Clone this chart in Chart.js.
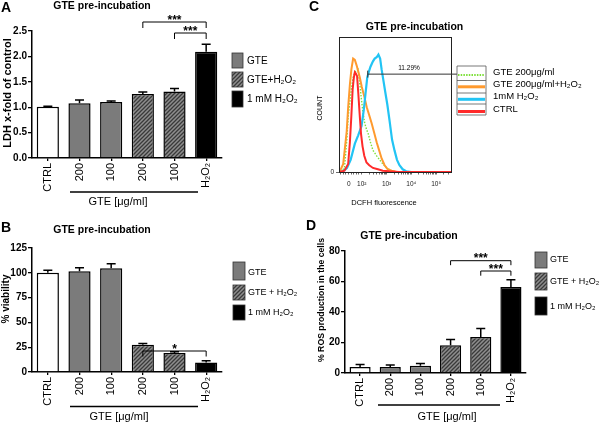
<!DOCTYPE html>
<html>
<head>
<meta charset="utf-8">
<script src="https://cdn.jsdelivr.net/npm/chart.js@4/dist/chart.umd.min.js"></script>
<style>
body { margin: 0; background: #fff; width: 600px; height: 425px; position: relative; overflow: hidden; }
.panel { position: absolute; }
</style>
</head>
<body>
<div class="panel" style="left:0;top:0;width:300px;height:210px"><canvas id="chA"></canvas></div>
<div class="panel" style="left:300px;top:0;width:300px;height:210px"><canvas id="chC"></canvas></div>
<div class="panel" style="left:0;top:210px;width:300px;height:215px"><canvas id="chB"></canvas></div>
<div class="panel" style="left:300px;top:210px;width:300px;height:215px"><canvas id="chD"></canvas></div>
<script>
/* data */
var barLabels = ['CTRL', '200', '100', '200', '100', 'H₂O₂'];

var ldhValues = [1.01, 1.08, 1.10, 1.26, 1.31, 2.09];
var ldhErrors = [0.01, 0.06, 0.02, 0.04, 0.06, 0.15];

var viabilityValues = [100, 101.5, 104.5, 27.5, 19.2, 9.6];
var viabilityErrors = [2.5, 3.7, 4.7, 1.3, 1.3, 1.7];

var rosValues = [3.9, 3.9, 4.8, 18.2, 23.6, 56.4];
var rosErrors = [1.6, 1.3, 1.4, 3.7, 5.5, 4.8];

// panel C histograms: x in decades (10^2 -> 2), y in % of max count
var ctrlX = [1.10, 1.30, 1.45, 1.52, 1.58, 1.63, 1.68, 1.72, 1.76, 1.81, 1.86, 1.92, 1.97, 2.03, 2.10, 2.19, 2.30, 2.45, 2.65, 2.85, 3.10, 3.50, 4.00, 5.00, 5.64];
var ctrlY = [0, 1, 6, 22, 42, 61, 70, 74, 73, 71, 58, 41, 28, 19, 12, 7, 5, 3, 2, 1, 0.5, 0, 0, 0, 0];

var gteX = [1.15, 1.30, 1.40, 1.45, 1.52, 1.59, 1.65, 1.72, 1.78, 1.85, 1.92, 1.99, 2.05, 2.12, 2.20, 2.25, 2.35, 2.45, 2.60, 2.72, 2.85, 3.00, 3.20, 3.40, 4.00, 5.64];
var gteY = [0, 3, 25, 41, 52, 63, 70, 74, 75, 76, 65, 53, 44, 36, 31, 29, 22, 16, 12, 9, 6, 3, 1, 0, 0, 0];

var gteH2o2X = [1.10, 1.25, 1.39, 1.45, 1.52, 1.58, 1.65, 1.72, 1.79, 1.85, 1.92, 2.00, 2.10, 2.20, 2.30, 2.40, 2.50, 2.60, 2.70, 2.80, 2.92, 3.05, 3.20, 3.40, 4.00, 5.64];
var gteH2o2Y = [0, 6, 30, 48, 65, 76, 84, 83, 79, 75, 70, 63, 56, 48, 42, 36, 29, 22, 16, 10, 5, 2, 1, 0, 0, 0];

var h2o2X = [1.15, 1.24, 1.40, 1.55, 1.72, 1.85, 1.99, 2.08, 2.15, 2.22, 2.28, 2.35, 2.45, 2.52, 2.60, 2.67, 2.74, 2.80, 2.87, 2.94, 3.03, 3.12, 3.22, 3.32, 3.42, 3.52, 3.65, 3.79, 4.00, 5.64];
var h2o2Y = [0, 0.5, 3, 9, 21, 27, 34, 46, 58, 70, 74, 78, 82, 84, 85, 87, 84, 76, 68, 60, 50, 38, 24, 16, 9, 5, 2, 0.5, 0, 0];

var cMajorTicks = [1.48, 2, 3, 4, 5];
var cMajorLabels = ['0', '10²', '10³', '10⁴', '10⁵'];
var cLegendLabels = ['GTE 200μg/ml', 'GTE 200μg/ml+H₂O₂', '1mM H₂O₂', 'CTRL'];

var FONT = '"Liberation Sans", Arial, Helvetica, sans-serif';
var GRAY = '#7b7b7b';
Chart.defaults.font.family = FONT;
Chart.defaults.color = '#000';
Chart.defaults.animation = false;
Chart.defaults.plugins.legend.display = false;
Chart.defaults.plugins.tooltip.enabled = false;

function hatch(ctx) {
    var c = document.createElement('canvas');
    c.width = 4; c.height = 4;
    var g = c.getContext('2d');
    g.fillStyle = '#8e8e8e';
    g.fillRect(0, 0, 4, 4);
    g.strokeStyle = '#3a3a3a';
    g.lineWidth = 1.3;
    g.beginPath();
    g.moveTo(0, 4); g.lineTo(4, 0);
    g.moveTo(-1, 1); g.lineTo(1, -1);
    g.moveTo(3, 5); g.lineTo(5, 3);
    g.stroke();
    return ctx.createPattern(c, 'repeat');
}

function txt(ctx, s, x, y, font, align, rot) {
    ctx.save();
    ctx.font = font;
    ctx.fillStyle = '#000';
    ctx.textAlign = align || 'center';
    ctx.textBaseline = 'middle';
    ctx.translate(x, y);
    if (rot) ctx.rotate(rot);
    ctx.fillText(s, 0, 0);
    ctx.restore();
}

/* ---------- bar panels A, B, D ---------- */
function barPanel(id, values, errors, yMax, yStep, fmt, geo, ex) {
    var ctx = document.getElementById(id).getContext('2d');
    var pat = hatch(ctx);
    var fills = ['#fff', GRAY, GRAY, pat, pat, '#000'];

    var extras = {
        id: 'extras',
        afterDraw: function (chart) {
            var c = chart.ctx, xs = chart.scales.x, ys = chart.scales.y;
            var meta = chart.getDatasetMeta(0);
            c.save();
            c.strokeStyle = '#000';
            c.lineWidth = 1.5;
            // error bars (upper whisker only)
            meta.data.forEach(function (bar, i) {
                var y0 = ys.getPixelForValue(values[i]);
                var y1 = ys.getPixelForValue(values[i] + errors[i]);
                c.beginPath();
                c.moveTo(bar.x, y0); c.lineTo(bar.x, y1);
                c.moveTo(bar.x - 4.5, y1); c.lineTo(bar.x + 4.5, y1);
                c.stroke();
            });
            // significance brackets
            c.lineWidth = 1;
            ex.brackets.forEach(function (b) {
                var xa = xs.getPixelForValue(b.a), xb = xs.getPixelForValue(b.b);
                c.beginPath();
                c.moveTo(xa, b.top + b.leg); c.lineTo(xa, b.top);
                c.lineTo(xb, b.top); c.lineTo(xb, b.top + b.leg);
                c.stroke();
                c.font = 'bold 12px ' + FONT;
                c.fillStyle = '#000';
                c.textAlign = 'center';
                c.textBaseline = 'alphabetic';
                c.fillText(b.label, (xa + xb) / 2, b.top + 1.5);
            });
            // group line under GTE columns
            c.lineWidth = 1.3;
            c.beginPath();
            c.moveTo(ex.group[0], ex.group[2]); c.lineTo(ex.group[1], ex.group[2]);
            c.stroke();
            txt(c, 'GTE [μg/ml]', ex.groupText[0], ex.groupText[1], '11px ' + FONT);

            // legend
            var lf = [GRAY, pat, '#000'];
            ex.legend.boxes.forEach(function (bx, i) {
                c.fillStyle = lf[i];
                c.fillRect(ex.legend.x, bx[0], ex.legend.w, bx[1] - bx[0]);
                c.lineWidth = 0.8;
                c.strokeStyle = '#333';
                c.strokeRect(ex.legend.x, bx[0], ex.legend.w, bx[1] - bx[0]);
                txt(c, ex.legend.labels[i], ex.legend.tx, ex.legend.ty[i], ex.legend.font + 'px ' + FONT, 'left');
            });

            txt(c, ex.letter, ex.letterPos[0], ex.letterPos[1], 'bold 14px ' + FONT, 'left');
            txt(c, 'GTE pre-incubation', ex.title[0], ex.title[1], 'bold 10.5px ' + FONT);
            txt(c, ex.yTitle, ex.yTitlePos[0], ex.yTitlePos[1], 'bold ' + ex.yTitleSize + 'px ' + FONT, 'center', -Math.PI / 2);
            c.restore();
        }
    };

    return new Chart(ctx, {
        type: 'bar',
        data: {
            labels: barLabels,
            datasets: [{
                data: values,
                backgroundColor: fills,
                borderColor: '#000',
                borderWidth: 1.5,
                categoryPercentage: 1,
                barPercentage: 0.7
            }]
        },
        options: {
            responsive: true,
            maintainAspectRatio: false,
            layout: { padding: { left: 0, top: geo.top, right: geo.right, bottom: 0 } },
            scales: {
                x: {
                    grid: { display: true, offset: false, drawOnChartArea: false, tickLength: 3, color: '#000', lineWidth: 1.3 },
                    border: { color: '#000', width: 1.5 },
                    ticks: { font: { size: 11 }, minRotation: 90, maxRotation: 90, autoSkip: false, padding: 2 },
                    afterFit: function (s) { s.height = geo.xh; }
                },
                y: {
                    min: 0, max: yMax,
                    grid: { drawOnChartArea: false, tickLength: 4, color: '#000', lineWidth: 1.3 },
                    border: { color: '#000', width: 1.5 },
                    ticks: { stepSize: yStep, callback: fmt, font: { size: 10, weight: 'bold' }, padding: 1 },
                    afterFit: function (s) { s.width = geo.yw; }
                }
            }
        },
        plugins: [extras]
    });
}

barPanel('chA', ldhValues, ldhErrors, 2.5, 0.5, function (v) { return v.toFixed(1); },
    { yw: 32, xh: 52, top: 31, right: 78 },
    {
        letter: 'A', letterPos: [1, 8.5], title: [102, 6.5],
        yTitle: 'LDH x-fold of control', yTitlePos: [7.5, 93], yTitleSize: 11,
        brackets: [{ a: 3, b: 5, top: 22, leg: 6, label: '***' }, { a: 4, b: 5, top: 33, leg: 6, label: '***' }],
        group: [70, 198, 192], groupText: [118, 202],
        legend: { x: 232, w: 11, boxes: [[53, 68], [72, 87], [91, 107]], tx: 247, ty: [61, 80, 99], font: 10,
            labels: ['GTE', 'GTE+H₂O₂', '1 mM H₂O₂'] }
    });

barPanel('chB', viabilityValues, viabilityErrors, 125, 25, function (v) { return v; },
    { yw: 32, xh: 53, top: 38, right: 78 },
    {
        letter: 'B', letterPos: [1, 18], title: [102, 20],
        yTitle: '% viability', yTitlePos: [6.5, 89], yTitleSize: 10,
        brackets: [{ a: 3, b: 5, top: 141, leg: 5.5, label: '*' }],
        group: [70, 198, 196.5], groupText: [119, 206.5],
        legend: { x: 233, w: 12, boxes: [[52, 70], [75, 90], [95, 110]], tx: 248, ty: [63, 83, 103], font: 9,
            labels: ['GTE', 'GTE + H₂O₂', '1 mM H₂O₂'] }
    });

barPanel('chD', rosValues, rosErrors, 80, 20, function (v) { return v; },
    { yw: 45, xh: 52, top: 41, right: 74 },
    {
        letter: 'D', letterPos: [6, 16], title: [109, 26],
        yTitle: '% ROS production in the cells', yTitlePos: [22, 90], yTitleSize: 8.7,
        brackets: [{ a: 3, b: 5, top: 50.7, leg: 4.5, label: '***' }, { a: 4, b: 5, top: 61, leg: 4.7, label: '***' }],
        group: [78, 200, 195], groupText: [147, 206.5],
        legend: { x: 235, w: 12, boxes: [[42, 58], [63, 80], [87, 105]], tx: 250, ty: [50, 72, 97], font: 9,
            labels: ['GTE', 'GTE + H₂O₂', '1 mM H₂O₂'] }
    });

/* ---------- panel C: flow cytometry histogram ---------- */
function pts(xs, ys) {
    return xs.map(function (x, i) { return { x: x, y: ys[i] }; });
}

var cMinor = [1.15, 1.25, 1.35, 1.58, 1.68, 1.78, 1.88];
[2, 3, 4].forEach(function (d) {
    for (var k = 2; k < 10; k++) cMinor.push(d + Math.log10(k));
});
[5.30, 5.48].forEach(function (v) { cMinor.push(v); });

var cExtras = {
    id: 'cExtras',
    afterDraw: function (chart) {
        var c = chart.ctx, a = chart.chartArea, xs = chart.scales.x, ys = chart.scales.y;
        c.save();
        c.strokeStyle = '#222';
        c.lineWidth = 1;
        c.strokeRect(a.left + 0.5, a.top + 0.5, a.right - a.left - 1, a.bottom - a.top);

        // gate marker
        var gx = xs.getPixelForValue(2.24), gy = ys.getPixelForValue(72.5);
        c.strokeStyle = '#333';
        c.beginPath();
        c.moveTo(gx, gy - 3.5); c.lineTo(gx, gy + 3.5);
        c.moveTo(gx, gy); c.lineTo(157, gy);
        c.stroke();
        txt(c, '11.29%', 109, 68.5, '6.5px ' + FONT);

        // legend table
        var colors = ['#7ee03a', '#ff9a2e', '#22c4f4', '#ff2a2a'];
        var lineY = [75, 86.8, 99.3, 111.5];
        var sepY = [66, 80.5, 93, 104, 115];
        c.strokeStyle = '#555';
        c.lineWidth = 0.8;
        sepY.forEach(function (y) {
            c.beginPath(); c.moveTo(157, y); c.lineTo(186, y); c.stroke();
        });
        c.beginPath();
        c.moveTo(157, 66); c.lineTo(157, 115);
        c.moveTo(186, 66); c.lineTo(186, 115);
        c.stroke();
        colors.forEach(function (col, i) {
            c.strokeStyle = col;
            c.lineWidth = i === 0 ? 2 : 3;
            c.setLineDash(i === 0 ? [1.5, 1.2] : []);
            c.beginPath(); c.moveTo(158, lineY[i]); c.lineTo(185, lineY[i]); c.stroke();
            c.setLineDash([]);
            txt(c, cLegendLabels[i], 193, lineY[i] - 2.5, '9.5px ' + FONT, 'left');
        });

        txt(c, 'C', 9, 7.5, 'bold 14px ' + FONT, 'left');
        txt(c, 'GTE pre-incubation', 114.5, 27, 'bold 10.5px ' + FONT);
        txt(c, 'COUNT', 20, 108, '7px ' + FONT, 'center', -Math.PI / 2);
        txt(c, 'DCFH fluorescence', 84, 203, '7.5px ' + FONT);
        c.restore();
    }
};

new Chart(document.getElementById('chC'), {
    type: 'line',
    data: {
        datasets: [
            { data: pts(ctrlX, ctrlY), borderColor: '#ff2a2a', borderWidth: 2 },
            { data: pts(h2o2X, h2o2Y), borderColor: '#22c4f4', borderWidth: 2.2 },
            { data: pts(gteH2o2X, gteH2o2Y), borderColor: '#ff9a2e', borderWidth: 2 },
            { data: pts(gteX, gteY), borderColor: '#7ee03a', borderWidth: 1.4, borderDash: [1.5, 1.5] }
        ]
    },
    options: {
        responsive: true,
        maintainAspectRatio: false,
        elements: { point: { radius: 0 }, line: { tension: 0, fill: false } },
        layout: { padding: { left: 0, top: 37, right: 148, bottom: 0 } },
        scales: {
            x: {
                type: 'linear', min: 1.08, max: 5.64,
                afterBuildTicks: function (s) {
                    s.ticks = cMajorTicks.concat(cMinor).sort(function (p, q) { return p - q; })
                        .map(function (v) { return { value: v }; });
                },
                grid: { drawOnChartArea: false, tickLength: 2.5, color: '#444', lineWidth: 0.8 },
                border: { display: false },
                ticks: {
                    autoSkip: false, maxRotation: 0, padding: 6, color: '#222', font: { size: 6.5 },
                    callback: function (v) {
                        var k = cMajorTicks.indexOf(v);
                        return k >= 0 ? cMajorLabels[k] : '';
                    }
                },
                afterFit: function (s) { s.height = 38; }
            },
            y: {
                min: 0, max: 100,
                afterBuildTicks: function (s) { s.ticks = [{ value: 0 }]; },
                grid: { drawOnChartArea: false, tickLength: 3, color: '#444', lineWidth: 0.8 },
                border: { display: false },
                ticks: { padding: 2, color: '#222', font: { size: 6.5 } },
                afterFit: function (s) { s.width = 39; }
            }
        }
    },
    plugins: [cExtras]
});
</script>
</body>
</html>
